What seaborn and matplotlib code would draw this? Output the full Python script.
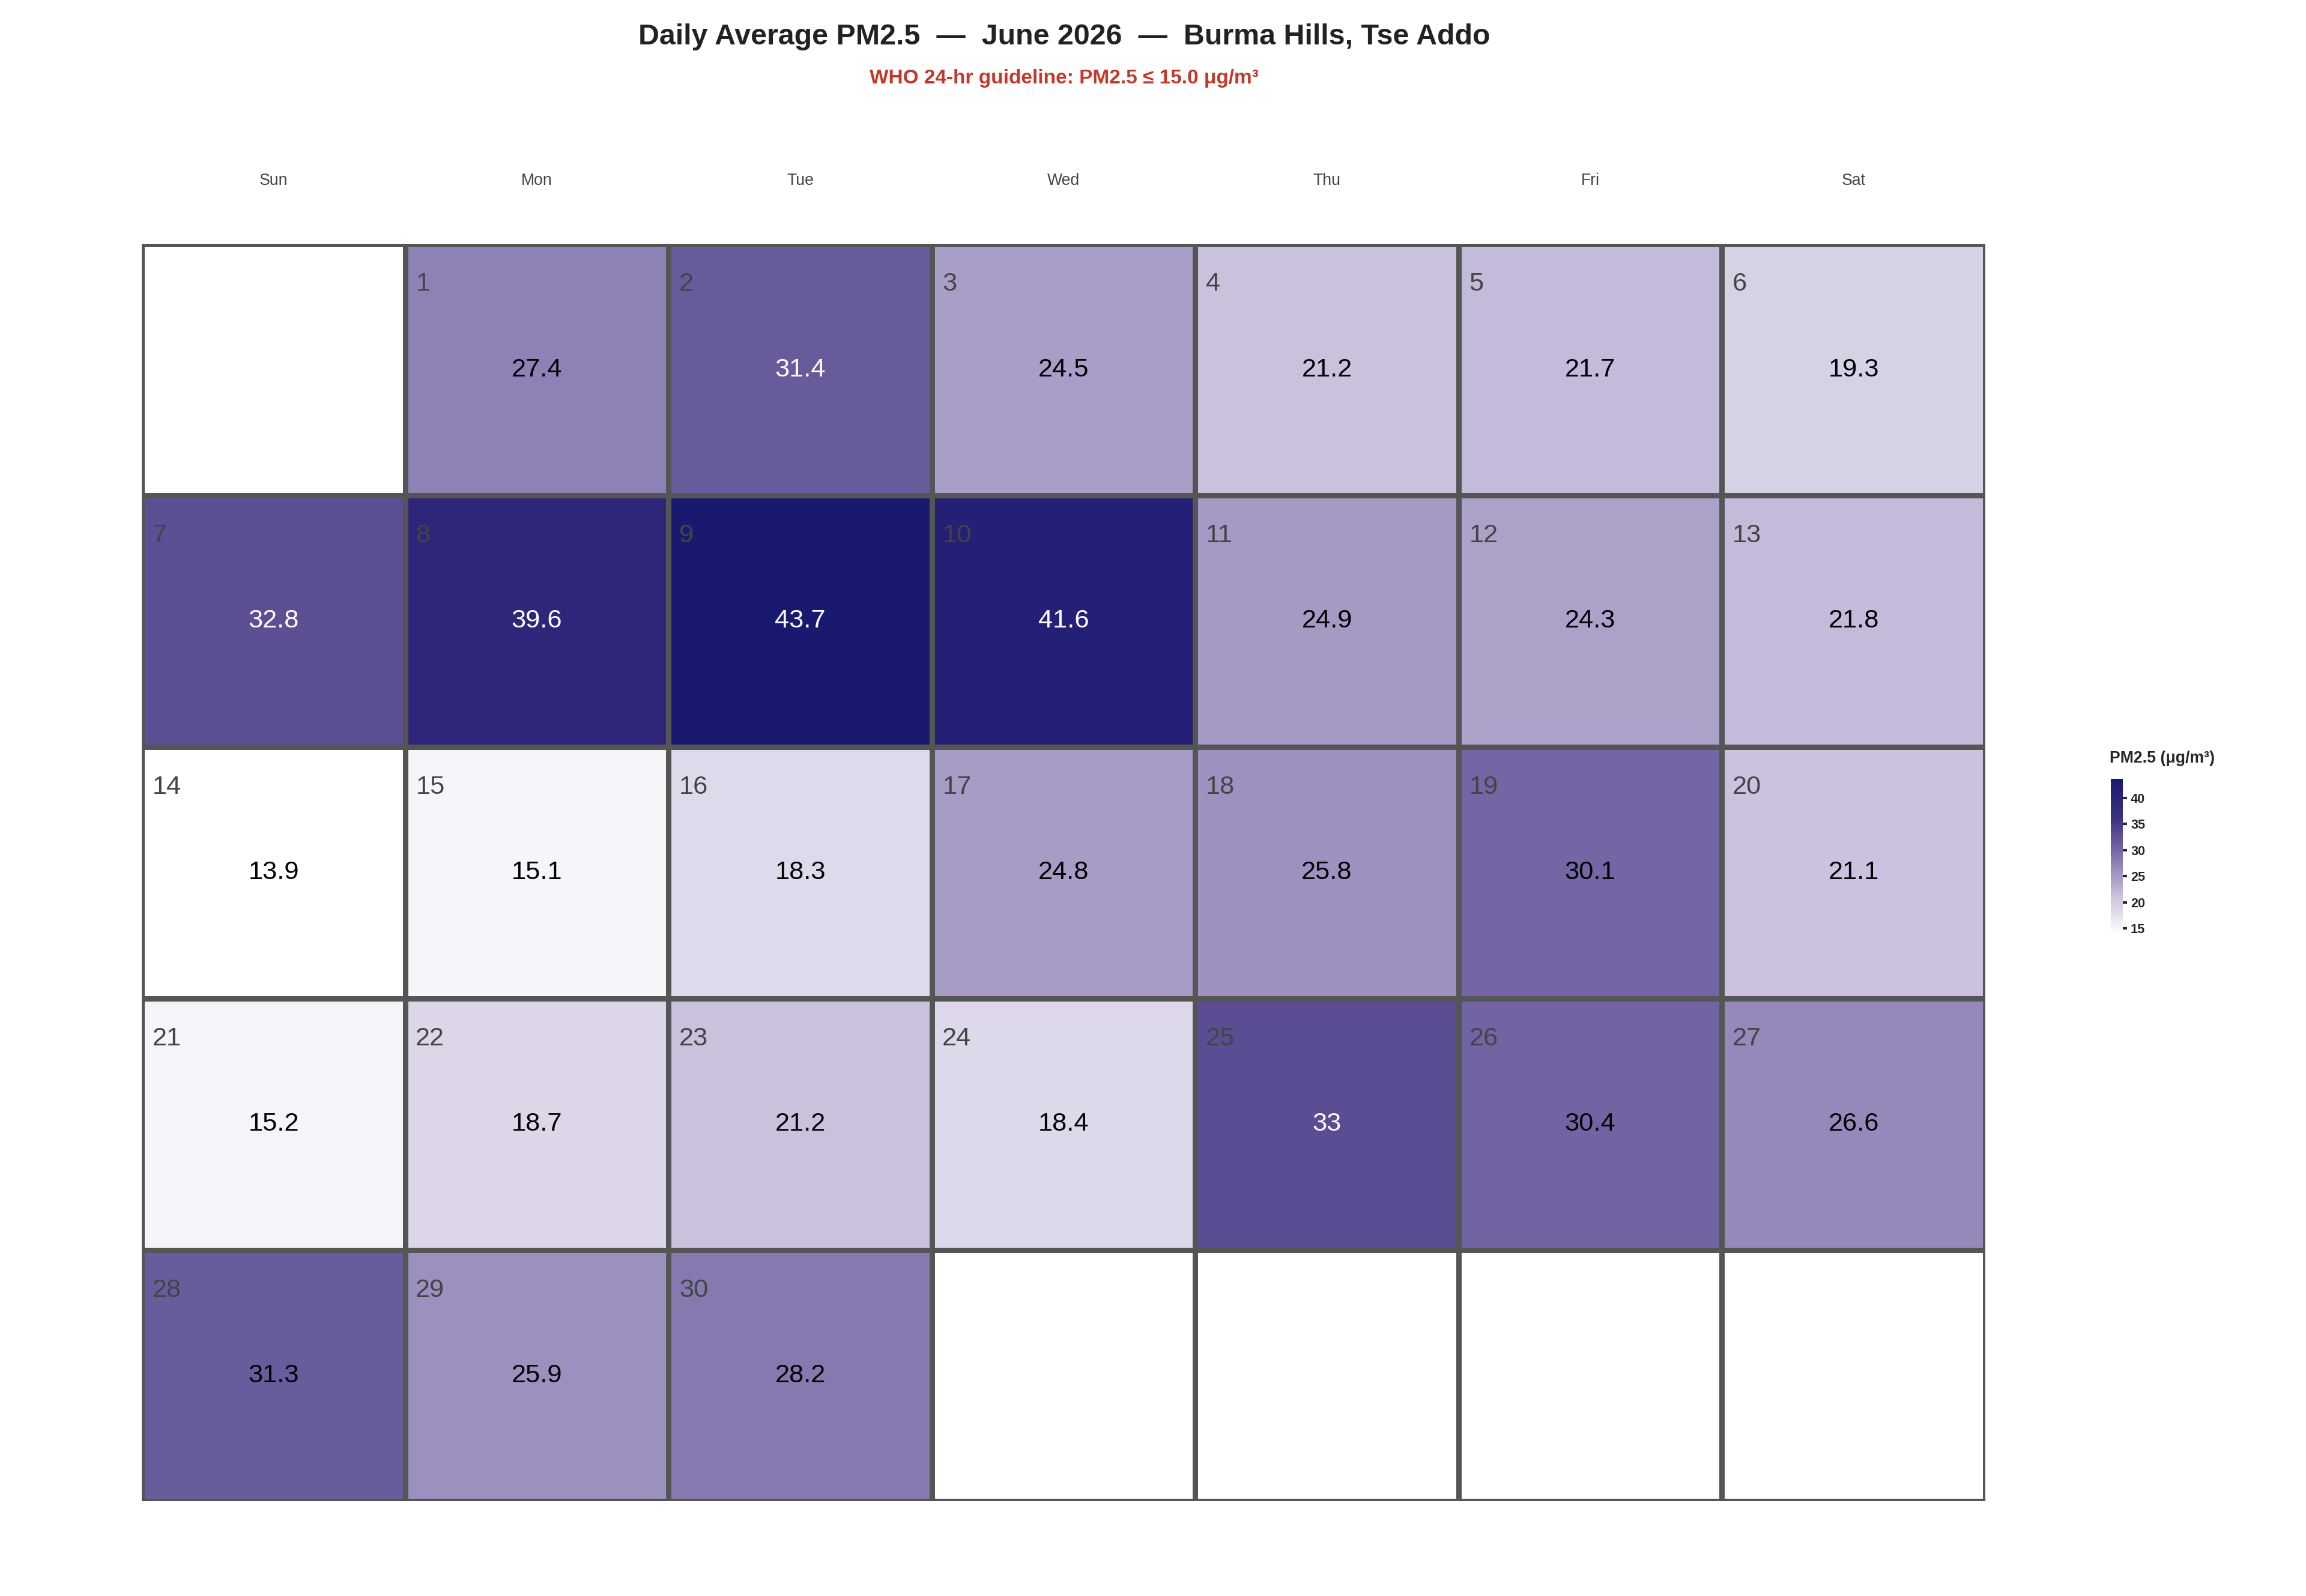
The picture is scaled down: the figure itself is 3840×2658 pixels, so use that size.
import numpy as np
import pandas as pd
import seaborn as sns
import matplotlib.pyplot as plt
from matplotlib.colors import LinearSegmentedColormap

sns.set_theme(style="white")
plt.rcParams['font.family'] = ['Liberation Sans', 'DejaVu Sans']

weekdays = ["Sun", "Mon", "Tue", "Wed", "Thu", "Fri", "Sat"]
days = list(range(1, 31))
pm25 = [27.4, 31.4, 24.5, 21.2, 21.7, 19.3, 32.8, 39.6, 43.7, 41.6,
        24.9, 24.3, 21.8, 13.9, 15.1, 18.3, 24.8, 25.8, 30.1, 21.1,
        15.2, 18.7, 21.2, 18.4, 33.0, 30.4, 26.6, 31.3, 25.9, 28.2]
first_col = 1  # June 1, 2026 is a Monday

grid = np.full((5, 7), np.nan)
daygrid = np.zeros((5, 7), dtype=int)
for d, v in zip(days, pm25):
    idx = d - 1 + first_col
    r, c = divmod(idx, 7)
    grid[r, c] = v
    daygrid[r, c] = d

df = pd.DataFrame(grid, columns=weekdays)
cmap = LinearSegmentedColormap.from_list("pm", ["#ffffff", "#c8bfdc", "#8072ac", "#3d3180", "#191970"])

fig = plt.figure(figsize=(16, 11.075), dpi=240)
ax = fig.add_axes([96/1560, 1-1016/1080, (1343-96)/1560, (1016-165)/1080])
cax = fig.add_axes([1428/1560, 1-632/1080, 8/1560, 105/1080])
sns.heatmap(df, mask=np.isnan(grid), cmap=cmap, vmin=13.9, vmax=43.7,
            linewidths=2.2, linecolor="#555555", ax=ax, cbar_ax=cax, annot=False)
ax.set_yticks([]); ax.set_xticks([])
for s in ax.spines.values():
    s.set_visible(False)
for c, w in enumerate(weekdays):
    ax.text(c + 0.5, -0.25, w, ha="center", va="center", fontsize=8, color="#444444")
for r in range(5):
    for c in range(7):
        if daygrid[r, c]:
            v = grid[r, c]
            ax.text(c + 0.04, r + 0.16, str(daygrid[r, c]), ha="left", va="center",
                    fontsize=13, color="#444444")
            ax.text(c + 0.5, r + 0.5, f"{v:g}", ha="center", va="center", fontsize=13,
                    color="white" if v > 31.35 else "black")

cb = ax.collections[0].colorbar
cb.set_ticks([15, 20, 25, 30, 35, 40])
cb.outline.set_visible(False)
cax.tick_params(labelsize=6.5, length=2, pad=2)
for t in cax.get_yticklabels():
    t.set_fontweight("bold")
fig.text(1427/1560, 1-513/1080, "PM2.5 (μg/m³)", fontsize=8, fontweight="bold", ha="left", va="center")

fig.text(720/1560, 1-25/1080, "Daily Average PM2.5  —  June 2026  —  Burma Hills, Tse Addo",
         ha="center", va="center", fontsize=14.5, fontweight="bold", color="#222222")
fig.text(720/1560, 1-53/1080, "WHO 24-hr guideline: PM2.5 ≤ 15.0 μg/m³",
         ha="center", va="center", fontsize=10, fontweight="bold", color="#c0392b")
fig.savefig("out.png", dpi=240)
